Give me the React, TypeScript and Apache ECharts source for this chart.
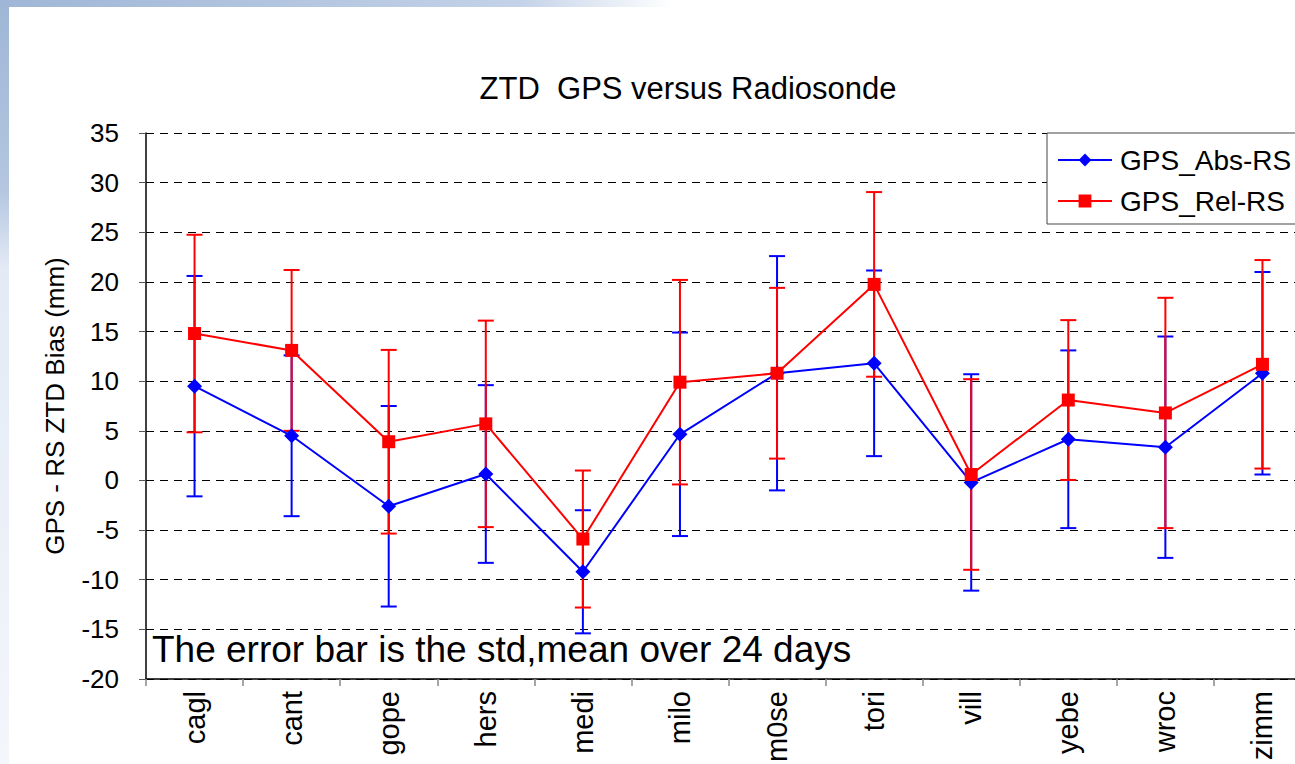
import React, { useEffect, useRef } from "react";
import * as echarts from "echarts";

const categories = ["cagl", "cant", "gope", "hers", "medi", "milo", "m0se", "tori", "vill", "yebe", "wroc", "zimm"];
const absMean = [9.5, 4.5, -2.6, 0.65, -9.2, 4.65, 10.8, 11.8, -0.2, 4.15, 3.35, 10.8];
const absStd = [11.1, 8.1, 10.1, 8.95, 6.2, 10.25, 11.8, 9.35, 10.9, 8.95, 11.15, 10.2];
const relMean = [14.8, 13.1, 3.9, 5.7, -5.9, 9.9, 10.8, 19.75, 0.6, 8.1, 6.8, 11.7];
const relStd = [9.95, 8.1, 9.25, 10.4, 6.9, 10.3, 8.6, 9.3, 9.6, 8.05, 11.6, 10.5];
const yTicks = { min: -20, max: 35, interval: 5 };

const FONT = "'Liberation Sans', Arial, sans-serif";
const BLUE = "#0000ff";
const RED = "#ff0000";

function errData(mean: number[], std: number[]) {
  return mean.map((m, i) => [i, m - std[i], m + std[i]]);
}

function errRender(color: string) {
  return (params: any, api: any) => {
    const x = api.value(0);
    const lo = api.value(1);
    const hi = api.value(2);
    const pHi = api.coord([x, hi]);
    const pLo = api.coord([x, lo]);
    const hw = 8;
    const style = { stroke: color, lineWidth: 2 };
    return {
      type: "group",
      children: [
        { type: "line", shape: { x1: pHi[0], y1: pHi[1], x2: pLo[0], y2: pLo[1] }, style },
        { type: "line", shape: { x1: pHi[0] - hw, y1: pHi[1], x2: pHi[0] + hw, y2: pHi[1] }, style },
        { type: "line", shape: { x1: pLo[0] - hw, y1: pLo[1], x2: pLo[0] + hw, y2: pLo[1] }, style },
      ],
    };
  };
}

export default function App() {
  const ref = useRef<HTMLDivElement>(null);
  useEffect(() => {
    if (!ref.current) return;
    const chart = echarts.init(ref.current, undefined, { renderer: "svg" });
    chart.setOption({
      animation: false,
      backgroundColor: "#ffffff",
      textStyle: { fontFamily: FONT },
      graphic: [
        {
          type: "rect",
          z: -10,
          shape: { x: 0, y: 0, width: 1295, height: 7 },
          style: {
            fill: new echarts.graphic.LinearGradient(0, 0, 1, 0, [
              { offset: 0, color: "#9fb6d6" },
              { offset: 0.4, color: "#c3d2e8" },
              { offset: 0.52, color: "#ffffff" },
              { offset: 1, color: "#ffffff" },
            ]),
          },
        },
        {
          type: "rect",
          z: -10,
          shape: { x: 0, y: 0, width: 9, height: 764 },
          style: {
            fill: new echarts.graphic.LinearGradient(0, 0, 0, 1, [
              { offset: 0, color: "#9fb6d6" },
              { offset: 0.25, color: "#b4c6e0" },
              { offset: 0.35, color: "#e3eaf5" },
              { offset: 1, color: "#f3f6fb" },
            ]),
          },
        },
        {
          type: "text",
          z: 10,
          x: 688,
          y: 88,
          style: {
            text: "ZTD  GPS versus Radiosonde",
            font: `31px ${FONT}`,
            fill: "#000",
            align: "center",
            verticalAlign: "middle",
          },
        },
        {
          type: "text",
          z: 10,
          x: 152,
          y: 649,
          style: {
            text: "The error bar is the std,mean over 24 days",
            font: `37px ${FONT}`,
            fill: "#000",
            align: "left",
            verticalAlign: "middle",
          },
        },
      ],
      legend: {
        orient: "vertical",
        left: 1047,
        top: 133,
        padding: [13, 8, 9, 10],
        itemWidth: 54,
        itemHeight: 16,
        itemGap: 13,
        backgroundColor: "#ffffff",
        borderColor: "#444",
        borderWidth: 1,
        borderRadius: 0,
        data: ["GPS_Abs-RS", "GPS_Rel-RS"],
        textStyle: { fontSize: 28, lineHeight: 27, color: "#000", fontFamily: FONT, padding: [0, 0, 0, 3] },
        z: 20,
      },
      grid: { left: 146, top: 133, width: 1165, height: 546, outerBoundsMode: "none", containLabel: false },
      xAxis: {
        type: "category",
        data: categories,
        boundaryGap: true,
        axisLine: { onZero: false, lineStyle: { color: "#000", width: 1.5 } },
        axisTick: { show: true, length: 7, lineStyle: { color: "#888", width: 1.5 } },
        axisLabel: { rotate: 90, margin: 12, fontSize: 29, color: "#000", fontFamily: FONT, interval: 0 },
        splitLine: { show: false },
      },
      yAxis: {
        type: "value",
        min: yTicks.min,
        max: yTicks.max,
        interval: yTicks.interval,
        name: "GPS - RS ZTD Bias (mm)",
        nameLocation: "middle",
        nameRotate: 90,
        nameGap: 78,
        nameTextStyle: { fontSize: 26, color: "#000", fontFamily: FONT },
        axisLine: { show: true, lineStyle: { color: "#000", width: 1.5 } },
        axisTick: { show: true, length: 7, lineStyle: { color: "#555" } },
        axisLabel: { margin: 27, fontSize: 26, color: "#000", fontFamily: FONT },
        splitLine: { show: true, lineStyle: { color: "#000", width: 1, type: [8, 6] } },
      },
      series: [
        {
          type: "custom",
          name: "absErr",
          data: errData(absMean, absStd),
          encode: { x: 0, y: [1, 2] },
          renderItem: errRender(BLUE),
          z: 2,
        },
        {
          type: "custom",
          name: "relErr",
          data: errData(relMean, relStd),
          encode: { x: 0, y: [1, 2] },
          renderItem: errRender(RED),
          z: 2,
        },
        {
          type: "line",
          name: "GPS_Abs-RS",
          data: absMean,
          symbol: "diamond",
          symbolSize: 15,
          itemStyle: { color: BLUE },
          lineStyle: { color: BLUE, width: 2 },
          z: 3,
        },
        {
          type: "line",
          name: "GPS_Rel-RS",
          data: relMean,
          symbol: "rect",
          symbolSize: 13,
          itemStyle: { color: RED },
          lineStyle: { color: RED, width: 2 },
          z: 4,
        },
      ],
    });
    return () => chart.dispose();
  }, []);
  return <div ref={ref} style={{ position: "fixed", left: 0, top: 0, width: 1295, height: 764 }} />;
}
